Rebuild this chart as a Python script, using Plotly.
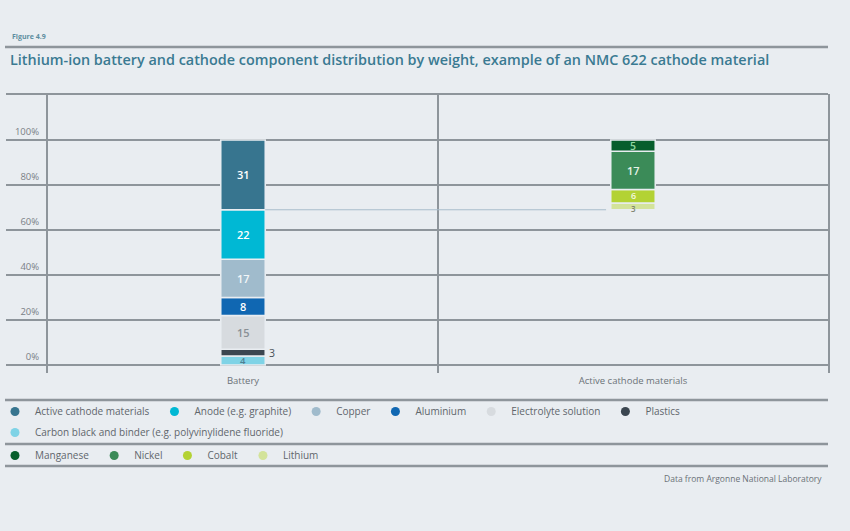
import numpy as np
import plotly.graph_objects as go

# ---------------- data ----------------
categories = ["Battery", "Active cathode materials"]

# battery components, stacked bottom -> top
battery_labels = [
    "Carbon black and binder (e.g. polyvinylidene fluoride)",
    "Plastics",
    "Electrolyte solution",
    "Aluminium",
    "Copper",
    "Anode (e.g. graphite)",
    "Active cathode materials",
]
battery_values = [4, 3, 15, 8, 17, 22, 31]

# active cathode material (NMC 622) split, stacked bottom -> top
cathode_labels = ["Lithium", "Cobalt", "Nickel", "Manganese"]
cathode_values = [3, 6, 17, 5]

ytick_values = [0, 20, 40, 60, 80, 100]
ytick_labels = ["0%", "20%", "40%", "60%", "80%", "100%"]

# ---------------- styles ----------------
BG = "#e9edf1"
LINE = "#8e959b"
FONT = "Open Sans"

battery_colors = ["#7fd3e6", "#3b4650", "#d7dbdf", "#1067b2", "#a0bbcc", "#00b8d4", "#37758f"]
battery_text_colors = ["#4f7f92", "#4a5158", "#8a9096", "#ffffff", "#f2f6f8", "#ffffff", "#ffffff"]
battery_text_sizes = [9.5, 10.5, 11, 11, 11, 11, 11]
battery_text_yshift = [0, 0, 0, 0, 0, 0, 0]
cathode_colors = ["#d3e39a", "#b3d234", "#3b8b58", "#075e2c"]
cathode_text_colors = ["#7f8570", "#f4f8e0", "#e6f2e6", "#8fd8a0"]
cathode_text_sizes = [8, 9, 11, 10.5]
cathode_text_yshift = [-2, 1, 0, 0]

BAR_W = 0.114

fig = go.Figure()


def add_stack(cat, labels, values, bases, colors, tcolors, tsizes, tshifts):
    for lab, v, b, c, tc, ts, sh in zip(labels, values, bases, colors,
                                        tcolors, tsizes, tshifts):
        fig.add_trace(go.Bar(
            x=[cat], y=[v], base=[b], width=BAR_W, name=lab,
            marker=dict(color=c, line=dict(color=BG, width=1.5)),
            showlegend=False, hovertemplate=lab + ": %{y}<extra></extra>",
        ))
        outside = lab == "Plastics"
        fig.add_annotation(
            x=cat, y=b + v / 2, text=str(v), showarrow=False,
            xanchor="left" if outside else "center",
            xshift=25 if outside else 0, yshift=sh, borderpad=0,
            font=dict(color=tc, size=ts, family=FONT,
                      weight=400 if outside else 600))


battery_base = np.concatenate([[0], np.cumsum(battery_values)[:-1]])
add_stack(categories[0], battery_labels, battery_values, battery_base,
          battery_colors, battery_text_colors, battery_text_sizes, battery_text_yshift)

cathode_start = sum(battery_values) - battery_values[-1]
cathode_base = cathode_start + np.concatenate([[0], np.cumsum(cathode_values)[:-1]])
add_stack(categories[1], cathode_labels, cathode_values, cathode_base,
          cathode_colors, cathode_text_colors, cathode_text_sizes, cathode_text_yshift)

# legend entries (circle symbols), in reading order
for lab, c in zip(battery_labels[::-1], battery_colors[::-1]):
    which = "legend3" if lab.startswith("Carbon") else "legend"
    fig.add_trace(go.Scatter(x=[None], y=[None], mode="markers", name=lab,
                             marker=dict(color=c, size=9, symbol="circle"),
                             legend=which, hoverinfo="skip"))
for lab, c in zip(cathode_labels[::-1], cathode_colors[::-1]):
    fig.add_trace(go.Scatter(x=[None], y=[None], mode="markers", name=lab,
                             marker=dict(color=c, size=9, symbol="circle"),
                             legend="legend2", hoverinfo="skip"))

# ---------------- frame lines ----------------
PLOT_L, PLOT_R, PLOT_T, PLOT_B = 48, 828, 94, 373
pw, ph = PLOT_R - PLOT_L, PLOT_B - PLOT_T
def px_x(px):
    return (px - PLOT_L) / pw
def px_y(py):
    return (PLOT_B - py) / ph

left_ext = px_x(6)
shapes = []
for v in ytick_values:
    shapes.append(dict(type="line", xref="paper", yref="y", x0=left_ext, x1=1,
                       y0=v, y1=v, line=dict(color=LINE, width=2), layer="below"))
# top frame line
shapes.append(dict(type="line", xref="paper", yref="paper", x0=left_ext, x1=1,
                   y0=1, y1=1, line=dict(color=LINE, width=2)))
# category divider
shapes.append(dict(type="line", xref="x", yref="paper", x0=0.5, x1=0.5,
                   y0=0, y1=1, line=dict(color=LINE, width=2)))
# connector from battery's active-cathode segment to cathode bar
shapes.append(dict(type="line", xref="x", yref="y",
                   x0=BAR_W / 2, x1=1 - BAR_W / 2 - 0.012,
                   y0=cathode_start, y1=cathode_start,
                   line=dict(color="#a9bccb", width=1)))
# title underline and legend separators
for py in (47, 400, 444, 466):
    shapes.append(dict(type="line", xref="paper", yref="paper", x0=px_x(5), x1=1,
                       y0=px_y(py), y1=px_y(py), line=dict(color=LINE, width=2.5)))

legend_common = dict(orientation="h", xanchor="left", yanchor="top",
                     bgcolor="rgba(0,0,0,0)",
                     font=dict(size=10, color="#5f666c", family=FONT),
                     itemclick=False, itemdoubleclick=False)
LEG_X = px_x(-5)

fig.update_layout(
    width=850, height=531,
    paper_bgcolor=BG, plot_bgcolor=BG,
    margin=dict(l=PLOT_L, r=850 - PLOT_R, t=PLOT_T, b=531 - PLOT_B, autoexpand=False),
    barmode="overlay",
    font=dict(family=FONT, color="#6b7278", size=9),
    shapes=shapes,
    xaxis=dict(type="category", categoryorder="array", categoryarray=categories,
               range=[-0.5, 1.5], showgrid=False, zeroline=False, showline=False,
               ticks="", tickfont=dict(size=9.5, color="#6b7278", family=FONT),
               fixedrange=True, automargin=False),
    yaxis=dict(range=[(PLOT_B - 365) / -2.25, 100 + (140 - PLOT_T) / 2.25],
               tickvals=ytick_values, ticktext=ytick_labels,
               showgrid=False, zeroline=False, automargin=False,
               showline=True, mirror=True, linecolor=LINE, linewidth=2,
               ticks="", ticklabelstandoff=5, ticklabelshift=-8,
               tickfont=dict(size=9.5, color="#7a8086", family=FONT),
               fixedrange=True),
    legend=dict(x=LEG_X, y=px_y(397), **legend_common),
    legend3=dict(x=LEG_X, y=px_y(418), **legend_common),
    legend2=dict(x=LEG_X, y=px_y(441), **legend_common),
    title=dict(text="Lithium-ion battery and cathode component distribution by weight, "
                    "example of an NMC 622 cathode material",
               x=10 / 850, xanchor="left", xref="container",
               y=1 - 60 / 531, yanchor="middle", yref="container",
               font=dict(family=FONT, size=14.4, color="#3a7a92", weight=600)),
    showlegend=True,
)

fig.add_annotation(text="Figure 4.9", xref="paper", yref="paper",
                   x=px_x(10), y=px_y(36), xanchor="left", yanchor="middle",
                   showarrow=False,
                   font=dict(family=FONT, size=7, color="#5d8da0", weight=700))
fig.add_annotation(text="Data from Argonne National Laboratory", xref="paper", yref="paper",
                   x=px_x(824), y=px_y(478), xanchor="right", yanchor="middle",
                   showarrow=False, font=dict(family=FONT, size=8.5, color="#6b7278"))

fig.write_html("out.html", config={"displayModeBar": False},
               post_script="document.body.style.margin='0';")
